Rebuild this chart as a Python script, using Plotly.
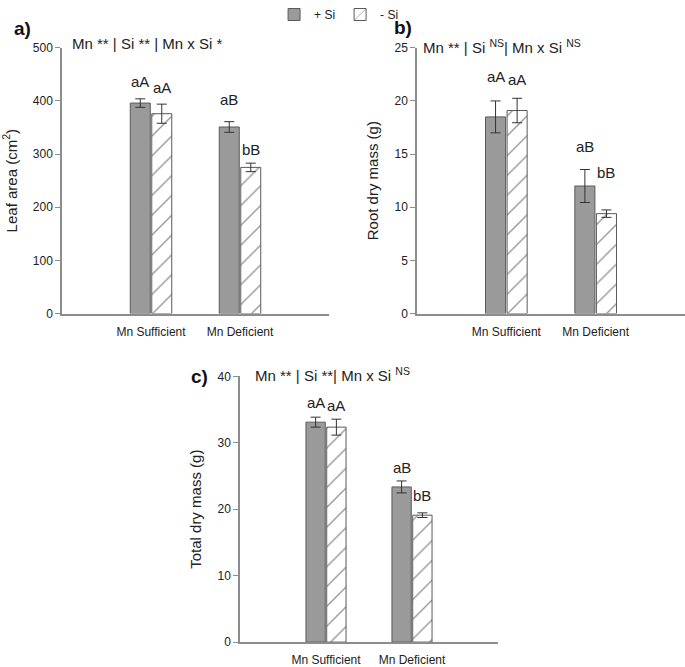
import plotly.graph_objects as go

# categories and data
treatments = ["Mn Sufficient", "Mn Deficient"]

leaf_plus_si = [396, 351]
leaf_plus_si_err = [8, 10]
leaf_minus_si = [376, 275]
leaf_minus_si_err = [18, 8]

root_plus_si = [18.5, 12.0]
root_plus_si_err = [1.5, 1.55]
root_minus_si = [19.1, 9.4]
root_minus_si_err = [1.15, 0.35]

total_plus_si = [33.1, 23.35]
total_plus_si_err = [0.75, 0.9]
total_minus_si = [32.35, 19.1]
total_minus_si_err = [1.2, 0.35]

# letters over bars (+Si, -Si) and where they sit
leaf_letters_plus = ["aA", "aB"]
leaf_letters_minus = ["aA", "bB"]
leaf_letter_y_plus = [437, 403]
leaf_letter_y_minus = [426, 308]

root_letters_plus = ["aA", "aB"]
root_letters_minus = ["aA", "bB"]
root_letter_y_plus = [22.3, 15.7]
root_letter_y_minus = [22.0, 13.3]

total_letters_plus = ["aA", "aB"]
total_letters_minus = ["aA", "bB"]
total_letter_y_plus = [36.0, 26.3]
total_letter_y_minus = [35.6, 22.1]

W, H = 685, 667
FONT = "Liberation Sans, Arial, sans-serif"
GRAY_FILL = "#9a9a9a"
EDGE = "#5a5a5a"
AXIS = "#8c8c8c"

panels = [
    dict(plus=leaf_plus_si, plus_err=leaf_plus_si_err, minus=leaf_minus_si, minus_err=leaf_minus_si_err,
         lp=leaf_letters_plus, lm=leaf_letters_minus, lyp=leaf_letter_y_plus, lym=leaf_letter_y_minus,
         ymax=500, dtick=100, ytitle="Leaf area (cm<sup>2</sup>)",
         px=(62, 329), py=(48, 315), tag="a)", tagpos=(22, 29),
         head="Mn ** | Si ** | Mn x Si *", headpos=(70, 44)),
    dict(plus=root_plus_si, plus_err=root_plus_si_err, minus=root_minus_si, minus_err=root_minus_si_err,
         lp=root_letters_plus, lm=root_letters_minus, lyp=root_letter_y_plus, lym=root_letter_y_minus,
         ymax=25, dtick=5, ytitle="Root dry mass (g)",
         px=(417, 685), py=(48, 315), tag="b)", tagpos=(403, 28),
         head="Mn ** | Si <sup>NS</sup>| Mn x Si <sup>NS</sup>", headpos=(421, 47)),
    dict(plus=total_plus_si, plus_err=total_plus_si_err, minus=total_minus_si, minus_err=total_minus_si_err,
         lp=total_letters_plus, lm=total_letters_minus, lyp=total_letter_y_plus, lym=total_letter_y_minus,
         ymax=40, dtick=10, ytitle="Total dry mass (g)",
         px=(240, 498), py=(378, 645), tag="c)", tagpos=(200, 378),
         head="Mn ** | Si **| Mn x Si <sup>NS</sup>", headpos=(253, 376)),
]

fig = go.Figure()
layout = dict()
annotations = []
bar_off = 0.121

for i, p in enumerate(panels, start=1):
    xa = "x" if i == 1 else f"x{i}"
    ya = "y" if i == 1 else f"y{i}"
    fig.add_trace(go.Bar(
        x=treatments, y=p["plus"], name="+ Si", showlegend=(i == 1), legendgroup="plus",
        marker=dict(color=GRAY_FILL, line=dict(color=EDGE, width=1)),
        error_y=dict(type="data", array=p["plus_err"], color="#333333", thickness=1, width=5),
        xaxis=xa, yaxis=ya))
    fig.add_trace(go.Bar(
        x=treatments, y=p["minus"], name="- Si", showlegend=(i == 1), legendgroup="minus",
        marker=dict(color="white", line=dict(color=EDGE, width=1),
                    pattern=dict(shape="/", fgcolor="#333333", bgcolor="white", size=14, solidity=0.1)),
        error_y=dict(type="data", array=p["minus_err"], color="#333333", thickness=1, width=5),
        xaxis=xa, yaxis=ya))

    x0, x1 = p["px"]
    ytop, ybot = p["py"]
    layout["xaxis" if i == 1 else f"xaxis{i}"] = dict(
        domain=[x0 / W, x1 / W], anchor=ya, range=[-1, 2], type="category",
        showline=True, linecolor=AXIS, linewidth=1.5, ticks="outside", ticklen=6,
        tickcolor="rgba(0,0,0,0)", showgrid=False,
        tickfont=dict(size=12, color="#222222", family=FONT), zeroline=False)
    layout["yaxis" if i == 1 else f"yaxis{i}"] = dict(
        domain=[1 - ybot / H, 1 - ytop / H], anchor=xa, range=[0, p["ymax"]], dtick=p["dtick"],
        showline=True, linecolor=AXIS, linewidth=1.5, ticks="outside", ticklen=5, tickcolor=AXIS,
        showgrid=False, zeroline=False, automargin=False,
        tickfont=dict(size=12, color="#222222", family=FONT),
        title=dict(text=p["ytitle"], font=dict(size=15, color="#222222", family=FONT), standoff=12))

    for k in range(2):
        annotations.append(dict(x=k - bar_off, y=p["lyp"][k], xref=xa, yref=ya, text=p["lp"][k],
                                showarrow=False, font=dict(size=15, color="#222222", family=FONT)))
        annotations.append(dict(x=k + bar_off, y=p["lym"][k], xref=xa, yref=ya, text=p["lm"][k],
                                showarrow=False, font=dict(size=15, color="#222222", family=FONT)))

    annotations.append(dict(x=p["tagpos"][0] / W, y=1 - p["tagpos"][1] / H, xref="paper", yref="paper",
                            text="<b>" + p["tag"] + "</b>", showarrow=False,
                            xanchor="center", yanchor="middle",
                            font=dict(size=19, color="#111111", family=FONT)))
    annotations.append(dict(x=p["headpos"][0] / W, y=1 - p["headpos"][1] / H, xref="paper", yref="paper",
                            text=p["head"], showarrow=False, xanchor="left", yanchor="middle",
                            font=dict(size=15, color="#222222", family=FONT)))

fig.update_layout(
    **layout,
    annotations=annotations,
    barmode="group", bargap=0.517, bargroupgap=0.07,
    width=W, height=H,
    margin=dict(l=0, r=0, t=0, b=0),
    plot_bgcolor="white", paper_bgcolor="white",
    font=dict(family=FONT, color="#222222"),
    legend=dict(orientation="h", x=0.495, xanchor="center", y=1.0, yanchor="top",
                font=dict(size=12, family=FONT), bgcolor="rgba(0,0,0,0)", traceorder="normal"),
)

fig.write_html("out.html", config={"displayModeBar": False},
               post_script="document.body.style.margin='0';")
